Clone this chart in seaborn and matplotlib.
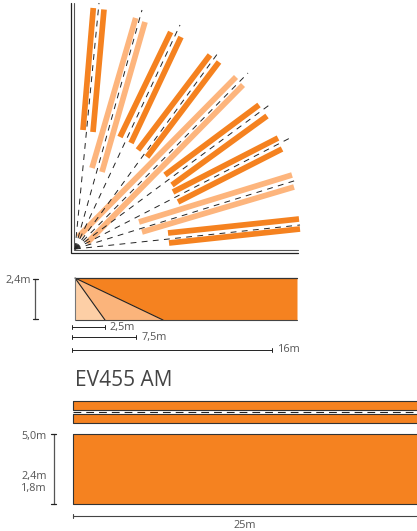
import matplotlib
matplotlib.use("Agg")
import matplotlib.pyplot as plt
import seaborn as sns
import pandas as pd

# Beam strips (pixel-scale plan coordinates)
bar_x0 = [83, 93, 92, 102, 120, 131, 138, 147, 78, 87, 165, 172, 173, 178, 139, 142, 168, 169]
bar_y0 = [130, 132, 168, 172, 137, 143, 150, 157, 237, 243, 175, 185, 192, 202, 222, 232, 233, 243]
bar_x1 = [93.3, 104, 135.7, 145, 170.7, 181, 210, 219, 236, 243, 259, 267, 278, 282, 292, 294, 299, 300]
bar_y1 = [8, 9.5, 18, 22, 32, 37, 55, 62, 77, 85, 105, 116, 138, 149, 175, 187, 219, 229]
bar_tone = ["dark", "dark", "light", "light", "dark", "dark", "dark", "dark", "light", "light",
            "dark", "dark", "dark", "dark", "light", "light", "dark", "dark"]
ray_x = [99, 142, 180, 218, 248, 272, 290, 297, 300]
ray_y = [3, 10, 25, 53, 73, 103, 138, 180, 225]
source_x, source_y = 75, 249

# Side view
side_left, side_right, side_top, side_bottom = 75, 297.5, 278, 320
side_marks = [105, 163]

# Dimension lines and labels
dim_labels = ["2,5m", "7,5m", "16m"]
dim_ends = [105, 136, 272]
dim_rows = [327, 337, 349.5]
dim_text_x = [110, 142, 278]
height_labels = ["5,0m", "2,4m", "1,8m"]
height_rows = [437, 476, 488]

# Lower diagram bands (top, bottom)
band_tops = [400.7, 414.3, 434]
band_bottoms = [409.7, 423.3, 504.3]

ORANGE = "#F58220"
LIGHT = "#FDB57D"
PALE = "#FDCFA6"
MID = "#FBB47B"
INK = "#222222"
GREY = "#555555"

sns.set_theme(style="white")
plt.rcParams["font.family"] = ["Open Sans", "DejaVu Sans"]

fig = plt.figure(figsize=(4.17, 5.31), dpi=100)
ax = fig.add_axes([0, 0, 1, 1])

# Rays
ray_rows = []
for i, (x, y) in enumerate(zip(ray_x, ray_y)):
    ray_rows += [dict(ray=i, x=source_x, y=source_y), dict(ray=i, x=x, y=y)]
sns.lineplot(data=pd.DataFrame(ray_rows), x="x", y="y", units="ray", estimator=None, sort=False,
             color=INK, lw=0.7, ax=ax, dashes=False, linestyle=(0, (6, 5.5)), zorder=3)

# Strips
bar_rows = []
for i in range(len(bar_x0)):
    bar_rows += [dict(bar=i, tone=bar_tone[i], x=bar_x0[i], y=bar_y0[i]),
                 dict(bar=i, tone=bar_tone[i], x=bar_x1[i], y=bar_y1[i])]
sns.lineplot(data=pd.DataFrame(bar_rows), x="x", y="y", units="bar", hue="tone", estimator=None, sort=False,
             palette={"dark": ORANGE, "light": LIGHT}, lw=4.1, solid_capstyle="butt", legend=False, ax=ax, zorder=2)

# Double walls
ax.plot([71, 71, 298], [3, 253, 253], color=INK, lw=0.9, solid_joinstyle="miter")
ax.plot([74, 74, 298], [3, 250, 250], color="#555555", lw=0.8, solid_joinstyle="miter")

# Side view
ax.fill([side_left, side_left, side_marks[0]], [side_top, side_bottom, side_bottom], color=PALE, lw=0)
ax.fill([side_left, side_marks[0], side_marks[1]], [side_top, side_bottom, side_bottom], color=MID, lw=0)
ax.fill([side_left, side_marks[1], side_right, side_right], [side_top, side_bottom, side_bottom, side_top], color=ORANGE, lw=0)
ax.plot([side_marks[0], side_left, side_marks[1]], [side_bottom, side_top, side_bottom], color=INK, lw=0.8)
ax.plot([side_left, side_right], [side_top, side_top], color="#333333", lw=0.9)
ax.plot([side_left, side_right], [side_bottom, side_bottom], color="#444444", lw=0.8)
ax.plot([side_left, side_left], [side_top, side_bottom], color="#777777", lw=0.8)

def dim_h(x0, x1, y):
    ax.plot([x0, x1], [y, y], color=INK, lw=0.7)
    for x in (x0, x1):
        ax.plot([x, x], [y - 2, y + 2], color=INK, lw=0.7)

def dim_v(x, y0, y1):
    ax.plot([x, x], [y0, y1], color=GREY, lw=0.9)
    for y in (y0, y1):
        ax.plot([x - 2.5, x + 2.5], [y, y], color=INK, lw=0.9)

# Side dims
dim_v(35.5, 278.5, 318.5)
ax.text(6, 280.5, "2,4m", color=GREY, fontsize=7.8, va="center", ha="left")
for lab, end, row, tx in zip(dim_labels, dim_ends, dim_rows, dim_text_x):
    dim_h(72, end, row)
    ax.text(tx, row + 0.5, lab, color=GREY, fontsize=7.8, va="center", ha="left")

ax.text(75, 380, "EV455 AM", color="#444444", fontsize=15, va="center", ha="left")

# Lower bands
for top, bottom in zip(band_tops, band_bottoms):
    ax.fill([72.7, 72.7, 420, 420], [top, bottom, bottom, top], facecolor=ORANGE, edgecolor="none")
    ax.plot([420, 72.7, 72.7, 420], [top, top, bottom, bottom], color="#333333", lw=0.8)
ax.plot([72.7, 420], [412.3, 412.3], color=INK, lw=0.8, linestyle=(0, (7, 4.5)))

dim_v(54, 434, 504)
for lab, row in zip(height_labels, height_rows):
    ax.text(47, row, lab, color=GREY, fontsize=7.8, va="center", ha="right")
ax.plot([73.5, 420], [516, 516], color="#444444", lw=0.8)
ax.plot([73.5, 73.5], [514, 518], color="#444444", lw=0.8)
ax.text(245, 525, "25m", color=GREY, fontsize=7.8, va="center", ha="center")

ax.set_xlim(0, 417)
ax.set_ylim(531, 0)
ax.axis("off")
fig.savefig("out.png", dpi=100)
